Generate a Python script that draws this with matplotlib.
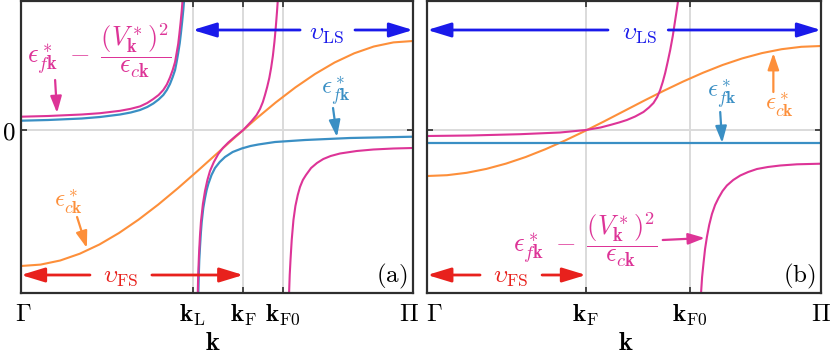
import numpy as np
import matplotlib.pyplot as plt
from matplotlib.transforms import ScaledTranslation

plt.rcParams['mathtext.fontset'] = 'cm'
plt.rcParams['font.family'] = ['DejaVu Serif']

# ---- data (k in units of pi, energies) ----
# panel (a)
kticks_a = [0.0, 0.438, 0.567, 0.668, 1.0]
klabels_a = [r'$\Gamma$', r'$\mathbf{k}_{\mathrm{L}}$', r'$\mathbf{k}_{\mathrm{F}}$',
             r'$\mathbf{k}_{\mathrm{F0}}$', r'$\Pi$']

k_c = [0.0, 0.05, 0.1, 0.15, 0.2, 0.25, 0.3, 0.35, 0.4, 0.45, 0.5,
       0.55, 0.6, 0.65, 0.7, 0.75, 0.8, 0.85, 0.9, 0.95, 1.0]
ec_a = [-1.36, -1.346, -1.305, -1.237, -1.145, -1.03, -0.896, -0.746, -0.583, -0.411, -0.235,
        -0.059, 0.113, 0.276, 0.426, 0.56, 0.675, 0.767, 0.835, 0.876, 0.89]

kf_a1 = [0.0, 0.069, 0.155, 0.2015, 0.2526, 0.28, 0.3036, 0.322, 0.3375, 0.351, 0.363, 0.372,
         0.380, 0.387, 0.393, 0.397, 0.401, 0.405, 0.408, 0.411, 0.414, 0.4165]
ef_a1 = [0.093, 0.100, 0.115, 0.130, 0.155, 0.175, 0.20, 0.23, 0.265, 0.305, 0.35, 0.40,
         0.46, 0.53, 0.60, 0.68, 0.77, 0.87, 0.97, 1.08, 1.20, 1.32]
kf_a2 = [0.4523, 0.4535, 0.4548, 0.4566, 0.4588, 0.461, 0.465, 0.4694, 0.4736, 0.4778, 0.486,
         0.4949, 0.507, 0.5204, 0.54, 0.563, 0.5854, 0.6054, 0.648, 0.7245, 0.839, 1.0]
ef_a2 = [-1.65, -1.45, -1.30, -1.17, -1.03, -0.92, -0.78, -0.68, -0.60, -0.54, -0.45,
         -0.38, -0.32, -0.27, -0.22, -0.185, -0.16, -0.145, -0.12, -0.10, -0.08, -0.067]

km_a1 = [0.0, 0.069, 0.155, 0.2015, 0.2526, 0.28, 0.3036, 0.322, 0.3375, 0.351, 0.363, 0.372,
         0.380, 0.387, 0.393, 0.397, 0.401, 0.404, 0.407, 0.410, 0.4125]
em_a1 = [0.133, 0.140, 0.155, 0.168, 0.192, 0.212, 0.236, 0.27, 0.31, 0.35, 0.40, 0.455,
         0.525, 0.60, 0.68, 0.77, 0.86, 0.96, 1.07, 1.19, 1.32]
km_a2 = [0.4508, 0.452, 0.454, 0.4565, 0.459, 0.464, 0.4694, 0.4755, 0.4821, 0.492, 0.5033,
         0.515, 0.5288, 0.548, 0.567, 0.5885, 0.601, 0.6097, 0.617, 0.6224, 0.628, 0.6334,
         0.638, 0.6425, 0.6465, 0.650, 0.653, 0.6555]
em_a2 = [-1.65, -1.45, -1.25, -1.06, -0.92, -0.74, -0.61, -0.50, -0.41, -0.32, -0.24,
         -0.18, -0.125, -0.06, 0.0, 0.09, 0.15, 0.21, 0.28, 0.35, 0.43, 0.52,
         0.62, 0.74, 0.88, 1.03, 1.18, 1.32]
km_a3 = [0.6837, 0.6855, 0.6875, 0.6906, 0.695, 0.700, 0.706, 0.7117, 0.719, 0.727, 0.740,
         0.755, 0.7712, 0.79, 0.8138, 0.8564, 0.8987, 0.95, 1.0]
em_a3 = [-1.65, -1.45, -1.30, -1.10, -0.90, -0.76, -0.65, -0.57, -0.50, -0.45, -0.38,
         -0.33, -0.29, -0.26, -0.235, -0.21, -0.195, -0.185, -0.18]

# panel (b)
kticks_b = [0.0, 0.403, 0.668, 1.0]
klabels_b = [r'$\Gamma$', r'$\mathbf{k}_{\mathrm{F}}$', r'$\mathbf{k}_{\mathrm{F0}}$', r'$\Pi$']

ec_b = [-0.46, -0.452, -0.428, -0.389, -0.336, -0.27, -0.192, -0.105, -0.011, 0.088, 0.19,
        0.292, 0.391, 0.485, 0.572, 0.65, 0.716, 0.769, 0.808, 0.832, 0.84]
kf_b = [0.0, 1.0]
ef_b = [-0.133, -0.133]

km_b1 = [0.0, 0.1085, 0.2356, 0.3373, 0.403, 0.44, 0.4644, 0.487, 0.5069, 0.528, 0.549,
         0.563, 0.5745, 0.584, 0.5915, 0.598, 0.6042, 0.6105, 0.617, 0.6235, 0.6297, 0.634, 0.638]
em_b1 = [-0.06, -0.055, -0.042, -0.025, 0.0, 0.025, 0.05, 0.075, 0.10, 0.135, 0.18,
         0.225, 0.27, 0.33, 0.40, 0.48, 0.57, 0.68, 0.80, 0.94, 1.10, 1.21, 1.32]
km_b2 = [0.695, 0.698, 0.7016, 0.7055, 0.7102, 0.716, 0.723, 0.731, 0.7397, 0.75, 0.761,
         0.777, 0.7949, 0.815, 0.8373, 0.865, 0.8966, 0.939, 1.0]
em_b2 = [-1.65, -1.47, -1.33, -1.19, -1.07, -0.95, -0.84, -0.75, -0.68, -0.61, -0.555,
         -0.50, -0.455, -0.42, -0.39, -0.37, -0.355, -0.343, -0.337]

# ---- styles ----
MAG = '#dd3497'
BLUE = '#3a8fc4'
ORANGE = '#fd8f3a'
VBLUE = '#1a1aea'
RED = '#e8211d'
GRID = '#dadada'
SPINE = '#2e2e2e'
FS = 18

label_fc = r'$\epsilon^*_{f\mathbf{k}}\;-\;\dfrac{(V^*_{\mathbf{k}})^2}{\epsilon_{c\mathbf{k}}}$'
label_f = r'$\epsilon^*_{f\mathbf{k}}$'
label_c = r'$\epsilon^*_{c\mathbf{k}}$'

fig = plt.figure(figsize=(8.31, 3.55), dpi=100)
ax1 = fig.add_axes([21 / 831, 62 / 355, 392 / 831, 292 / 355])
ax2 = fig.add_axes([427.3 / 831, 62 / 355, 393.7 / 831, 292 / 355])


def setup(ax, kticks, klabels, show_zero, shifts):
    ax.set_xlim(0, 1)
    ax.set_ylim(-1.63, 1.29)
    for k in kticks[1:-1]:
        ax.axvline(k, color=GRID, lw=1.4, zorder=0)
    ax.axhline(0, color=GRID, lw=1.4, zorder=0)
    ax.set_xticks(kticks)
    ax.set_xticklabels(klabels, fontsize=FS)
    ax.set_yticks([0])
    ax.set_yticklabels([r'$0$'] if show_zero else [''], fontsize=FS)
    ax.tick_params(direction='in', length=4, width=1.2, color=SPINE,
                   top=True, right=True, pad=7)
    ax.tick_params(axis='y', pad=4)
    for s in ax.spines.values():
        s.set_color(SPINE)
        s.set_linewidth(1.6)
    # nudge the end labels apart (pixels)
    for lab, dx in zip(ax.get_xticklabels(), shifts):
        lab.set_transform(lab.get_transform() + ScaledTranslation(dx / 100, 0, fig.dpi_scale_trans))


def arrow(ax, start, end, color, lw=2.0, hl=0.72, hw=0.22):
    ax.annotate('', xy=end, xytext=start, zorder=3,
                arrowprops=dict(arrowstyle='-|>,head_length=%g,head_width=%g' % (hl, hw),
                                color=color, lw=lw, shrinkA=0, shrinkB=0,
                                mutation_scale=20))


# ---- panel (a) ----
setup(ax1, kticks_a, klabels_a, True, [2, 0, 0, 0, -4])
ax1.plot(k_c, ec_a, color=ORANGE, lw=1.5, zorder=2)
ax1.plot(kf_a1, ef_a1, color=BLUE, lw=1.6, zorder=2)
ax1.plot(kf_a2, ef_a2, color=BLUE, lw=1.6, zorder=2)
ax1.plot(km_a1, em_a1, color=MAG, lw=1.5, zorder=2.1)
ax1.plot(km_a2, em_a2, color=MAG, lw=1.5, zorder=2.1)
ax1.plot(km_a3, em_a3, color=MAG, lw=1.5, zorder=2.1)

ax1.text(0.78, 0.97, r'$\upsilon_{\mathrm{LS}}$', color=VBLUE, fontsize=FS, ha='center', va='center')
arrow(ax1, (0.712, 1.0), (0.438, 1.0), VBLUE)
arrow(ax1, (0.852, 1.0), (1.0, 1.0), VBLUE)
ax1.text(0.255, -1.47, r'$\upsilon_{\mathrm{FS}}$', color=RED, fontsize=FS, ha='center', va='center')
arrow(ax1, (0.176, -1.45), (0.0, -1.45), RED)
arrow(ax1, (0.334, -1.45), (0.567, -1.45), RED)

ax1.text(0.015, 0.79, label_fc, color=MAG, fontsize=FS + 1, ha='left', va='center')
arrow(ax1, (0.087, 0.50), (0.092, 0.17), MAG, lw=1.6, hl=0.5, hw=0.17)
ax1.text(0.122, -0.72, label_c, color=ORANGE, fontsize=FS, ha='center', va='center')
arrow(ax1, (0.143, -0.87), (0.168, -1.18), ORANGE, lw=1.6, hl=0.5, hw=0.17)
ax1.text(0.804, 0.39, label_f, color=BLUE, fontsize=FS, ha='center', va='center')
arrow(ax1, (0.796, 0.22), (0.806, -0.07), BLUE, lw=1.6, hl=0.5, hw=0.17)
ax1.text(0.946, -1.46, r'$(\mathrm{a})$', fontsize=FS, ha='center', va='center')
ax1.text(0.49, -0.168, r'$\mathbf{k}$', fontsize=FS + 1, ha='center', va='center',
         transform=ax1.transAxes)

# ---- panel (b) ----
setup(ax2, kticks_b, klabels_b, False, [7, 0, 0, 0])
ax2.plot(k_c, ec_b, color=ORANGE, lw=1.5, zorder=2)
ax2.plot(kf_b, ef_b, color=BLUE, lw=1.6, zorder=2)
ax2.plot(km_b1, em_b1, color=MAG, lw=1.5, zorder=2.1)
ax2.plot(km_b2, em_b2, color=MAG, lw=1.5, zorder=2.1)

ax2.text(0.54, 0.97, r'$\upsilon_{\mathrm{LS}}$', color=VBLUE, fontsize=FS, ha='center', va='center')
arrow(ax2, (0.459, 1.0), (0.0, 1.0), VBLUE)
arrow(ax2, (0.612, 1.0), (1.0, 1.0), VBLUE)
ax2.text(0.2125, -1.47, r'$\upsilon_{\mathrm{FS}}$', color=RED, fontsize=FS, ha='center', va='center')
arrow(ax2, (0.134, -1.45), (0.0, -1.45), RED)
arrow(ax2, (0.2916, -1.45), (0.403, -1.45), RED)

ax2.text(0.749, 0.36, label_f, color=BLUE, fontsize=FS, ha='center', va='center')
arrow(ax2, (0.744, 0.18), (0.749, -0.13), BLUE, lw=1.6, hl=0.5, hw=0.17)
ax2.text(0.894, 0.25, label_c, color=ORANGE, fontsize=FS, ha='center', va='center')
arrow(ax2, (0.879, 0.38), (0.879, 0.77), ORANGE, lw=1.6, hl=0.5, hw=0.17)
ax2.text(0.218, -1.10, label_fc, color=MAG, fontsize=FS + 1, ha='left', va='center')
arrow(ax2, (0.598, -1.10), (0.705, -1.08), MAG, lw=1.6, hl=0.5, hw=0.17)
ax2.text(0.945, -1.46, r'$(\mathrm{b})$', fontsize=FS, ha='center', va='center')
ax2.text(0.503, -0.168, r'$\mathbf{k}$', fontsize=FS + 1, ha='center', va='center',
         transform=ax2.transAxes)

fig.savefig('out.png', dpi=100)
